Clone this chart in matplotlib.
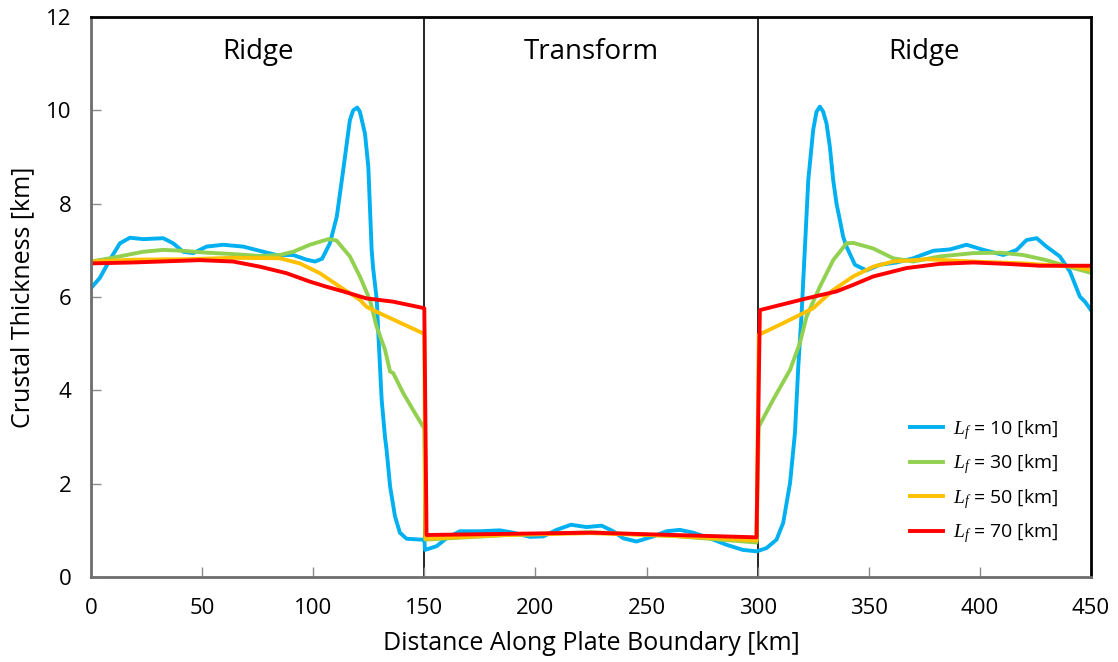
import matplotlib
matplotlib.use("Agg")
import matplotlib.pyplot as plt

plt.rcParams['font.family'] = ['Open Sans', 'DejaVu Sans']
plt.rcParams['mathtext.fontset'] = 'custom'
plt.rcParams['mathtext.it'] = 'Liberation Serif:italic'
plt.rcParams['mathtext.rm'] = 'Open Sans'

# ---- data (distance in km, thickness in km) ----
x10 = [0, 4, 8.5, 13, 17.5, 23.5, 32.5, 37, 41.5, 46, 52, 59.5, 68.5, 77.5, 83.5, 91, 97,
       100.8, 104, 107.5, 110.6, 113.5, 116.5, 118, 119.8, 121, 123.3, 124.8, 126.3, 127,
       128.6, 129.3, 130.8, 132.3, 133, 134.6, 136.8, 139, 142, 148.8, 150,
       150.3, 155.5, 160, 166, 175, 184, 190, 197.5, 203.5, 209.5, 216, 223, 229.8, 235,
       239.5, 245.5, 253, 259, 265, 271, 278.5, 286, 293.4, 299.6,
       304, 308.5, 311.5, 314.6, 316.8, 318.3, 319.8, 321.3, 322.8, 325, 326.5, 328,
       329.5, 331, 332.5, 334, 335.5, 337, 338.5, 340, 343.8, 349, 355, 362.6, 370, 379,
       386.6, 394, 401.6, 410.6, 416.6, 421, 425.6, 430, 436, 440.6, 445, 447.3, 450]
y10 = [6.19, 6.41, 6.8, 7.15, 7.27, 7.24, 7.26, 7.15, 6.97, 6.94, 7.08, 7.12, 7.08, 6.97,
       6.90, 6.90, 6.80, 6.76, 6.82, 7.15, 7.72, 8.72, 9.79, 10.0, 10.06, 9.97, 9.5, 8.79,
       7.01, 6.6, 5.94, 5.22, 3.80, 3.0, 2.73, 1.94, 1.30, 0.95, 0.82, 0.80, 0.80,
       0.58, 0.66, 0.83, 0.98, 0.98, 1.00, 0.95, 0.86, 0.87, 1.01, 1.12, 1.07, 1.10, 0.98,
       0.83, 0.76, 0.87, 0.98, 1.01, 0.95, 0.83, 0.69, 0.58, 0.55,
       0.62, 0.80, 1.16, 2.02, 3.09, 4.51, 5.66, 7.08, 8.51, 9.58, 9.97, 10.08,
       9.97, 9.72, 9.22, 8.51, 8.0, 7.65, 7.29, 7.08, 6.69, 6.57, 6.69, 6.74, 6.83, 6.99,
       7.02, 7.12, 7.01, 6.90, 7.01, 7.22, 7.26, 7.08, 6.87, 6.54, 6.01, 5.90, 5.72]

x30 = [0, 8.5, 16, 23.5, 32.5, 41.5, 52, 64, 76, 85, 91, 98.5, 106.8, 110.5, 116.5, 121,
       125.5, 128.5, 132.3, 134.6, 136, 140.5, 145.8, 149.5, 150,
       150.5, 187, 225, 262, 299.5,
       300.5, 307, 314.6, 319, 322, 328, 334, 340, 343, 352, 361, 370, 382, 397, 409,
       419.5, 430, 442, 450]
y30 = [6.76, 6.83, 6.90, 6.97, 7.01, 6.99, 6.95, 6.92, 6.88, 6.90, 6.97, 7.12, 7.24, 7.21,
       6.87, 6.44, 5.94, 5.37, 4.87, 4.40, 4.37, 3.94, 3.51, 3.22, 3.20,
       0.80, 0.90, 0.96, 0.88, 0.74,
       3.22, 3.80, 4.44, 5.01, 5.58, 6.22, 6.79, 7.15, 7.16, 7.04, 6.83, 6.76, 6.87, 6.94,
       6.95, 6.90, 6.79, 6.62, 6.52]

x50 = [0, 19, 43, 64, 85, 94, 103, 112, 121, 124, 130, 149.5, 150,
       150.5, 187, 225, 262, 299.5,
       300.5, 311.5, 325, 334, 343, 352, 361, 376, 397, 419.5, 442, 450]
y50 = [6.76, 6.80, 6.81, 6.84, 6.83, 6.72, 6.51, 6.22, 5.94, 5.79, 5.65, 5.22, 5.20,
       0.82, 0.90, 0.94, 0.88, 0.78,
       5.19, 5.44, 5.76, 6.15, 6.44, 6.65, 6.76, 6.81, 6.76, 6.72, 6.65, 6.58]

x70 = [0, 19, 49, 64, 76, 88, 98.5, 106, 113.5, 124, 136, 150,
       151, 225, 299.5,
       301, 322, 335.5, 343, 352, 367, 382, 397, 412, 427, 450]
y70 = [6.72, 6.74, 6.79, 6.76, 6.65, 6.51, 6.33, 6.22, 6.12, 5.97, 5.90, 5.76,
       0.90, 0.95, 0.85,
       5.72, 5.97, 6.12, 6.26, 6.44, 6.62, 6.71, 6.74, 6.71, 6.67, 6.67]

series_x = [x10, x30, x50, x70]
series_y = [y10, y30, y50, y70]
series_lf = [10, 30, 50, 70]
colors = ['#00B0F0', '#92D050', '#FFC000', '#FF0000']

section_names = ['Ridge', 'Transform', 'Ridge']
section_edges = [0, 150, 300, 450]

fig = plt.figure(figsize=(11.18, 6.62), dpi=100)
ax = fig.add_axes([0.0814, 0.1284, 0.8944, 0.8459])

for xs, ys, lf, c in zip(series_x, series_y, series_lf, colors):
    ax.plot(xs, ys, color=c, lw=2.8, solid_joinstyle='round',
            label=r'$L_f$' + f' = {lf} [km]')

for xb in section_edges[1:-1]:
    ax.axvline(xb, color='black', lw=1.2, zorder=1)

for i, name in enumerate(section_names):
    ax.text((section_edges[i] + section_edges[i + 1]) / 2, 11.25, name,
            ha='center', va='center', fontsize=20, color='black')

ax.set_xlim(0, 450)
ax.set_ylim(0, 12)
ax.set_xticks(range(0, 451, 50))
ax.set_yticks(range(0, 13, 2))
ax.tick_params(direction='in', length=7, width=1, color='#8c8c8c',
               labelsize=16)
ax.tick_params(axis='x', pad=15)
ax.tick_params(axis='y', pad=14)

for s in ['left', 'bottom']:
    ax.spines[s].set_color('#6e6e6e')
    ax.spines[s].set_linewidth(2)
for s in ['top', 'right']:
    ax.spines[s].set_color('black')
    ax.spines[s].set_linewidth(2)

ax.set_xlabel('Distance Along Plate Boundary [km]', fontsize=18, labelpad=9)
ax.set_ylabel('Crustal Thickness [km]', fontsize=18, labelpad=8)

leg = ax.legend(loc='lower right', bbox_to_anchor=(0.985, 0.025), frameon=False,
                fontsize=14, handlelength=1.7, handletextpad=0.5, labelspacing=0.55)

fig.savefig('out.png', dpi=100)
